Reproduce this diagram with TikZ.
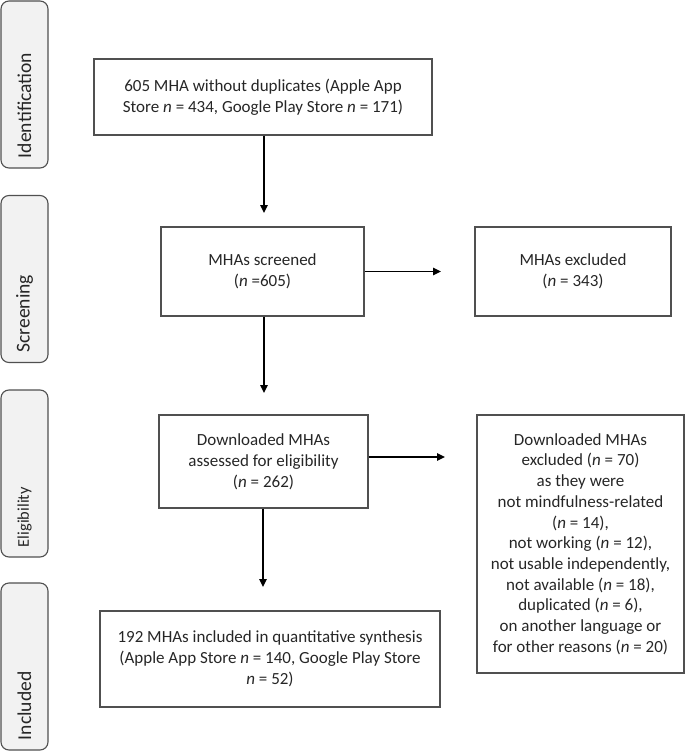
\documentclass[tikz,border=0pt]{standalone}
\usepackage{fontspec}
\setmainfont{Carlito}
\usetikzlibrary{arrows.meta,calc}
\definecolor{boxline}{HTML}{505050}
\definecolor{sidefill}{HTML}{F2F2F2}
\definecolor{txt}{HTML}{262626}
\begin{document}
\begin{tikzpicture}[x=1pt,y=-1pt,
  sidebox/.style={draw=boxline, fill=sidefill, line width=1.1pt, rounded corners=8pt,
    rotate=90, text width=147pt, inner xsep=10pt, inner ysep=0pt, minimum height=47pt,
    align=left, text=txt, font=\fontsize{19.6}{22}\selectfont},
  flowbox/.style={draw=boxline, line width=1.2pt, align=center, text=txt, inner sep=0pt,
    font=\fontsize{17}{21}\selectfont},
  arr/.style={draw=black, line width=1.3pt, -{Triangle[length=8pt,width=7.5pt]}}]
\useasboundingbox (0,0) rectangle (685,752);
% side boxes
\node[sidebox] (s1) at (24.5,84.5) {Identification};
\node[sidebox] (s2) at (24.5,279) {Screening};
\node[sidebox, font=\fontsize{16.4}{20}\selectfont] (s3) at (24.5,473.5) {Eligibility};
\node[sidebox] (s4) at (24.5,666.5) {Included};
% flow boxes
\node[flowbox, minimum width=338pt, minimum height=76pt] (b1) at (263,97)
  {605 MHA without duplicates (Apple App\\Store \textit{n} = 434, Google Play Store \textit{n} = 171)};
\node[flowbox, minimum width=203pt, minimum height=89pt] (b2) at (262.5,271.5)
  {MHAs screened\\(\textit{n} =605)};
\node[flowbox, minimum width=196pt, minimum height=89pt] (b3) at (573,271.5)
  {MHAs excluded\\(\textit{n} = 343)};
\node[flowbox, minimum width=209pt, minimum height=93pt] (b4) at (263.5,461.5)
  {Downloaded MHAs\\assessed for eligibility\\(\textit{n} = 262)};
\node[flowbox, minimum width=207pt, minimum height=258pt, font=\fontsize{17}{20.7}\selectfont] (b5) at (580.5,544)
  {Downloaded MHAs\\excluded (\textit{n} = 70)\\as they were\\not mindfulness-related\\(\textit{n} = 14),\\not working (\textit{n} = 12),\\not usable independently,\\not available (\textit{n} = 18),\\duplicated (\textit{n} = 6),\\on another language or\\for other reasons (\textit{n} = 20)};
\node[flowbox, minimum width=340pt, minimum height=96pt] (b6) at (270,659)
  {192 MHAs included in quantitative synthesis\\(Apple App Store \textit{n} = 140, Google Play Store\\\textit{n} = 52)};
% arrow ends
\coordinate (e1) at (264,213);
\coordinate (e2) at (441,271.5);
\coordinate (e3) at (264,393);
\coordinate (e4) at (445,457);
\coordinate (e5) at (263,587);
% arrows
\draw[arr] (b1.south -| e1) -- (e1);
\draw[arr] (b2.east |- e2) -- (e2);
\draw[arr] (b2.south -| e3) -- (e3);
\draw[arr] (b4.east |- e4) -- (e4);
\draw[arr] (b4.south -| e5) -- (e5);
\end{tikzpicture}
\end{document}
